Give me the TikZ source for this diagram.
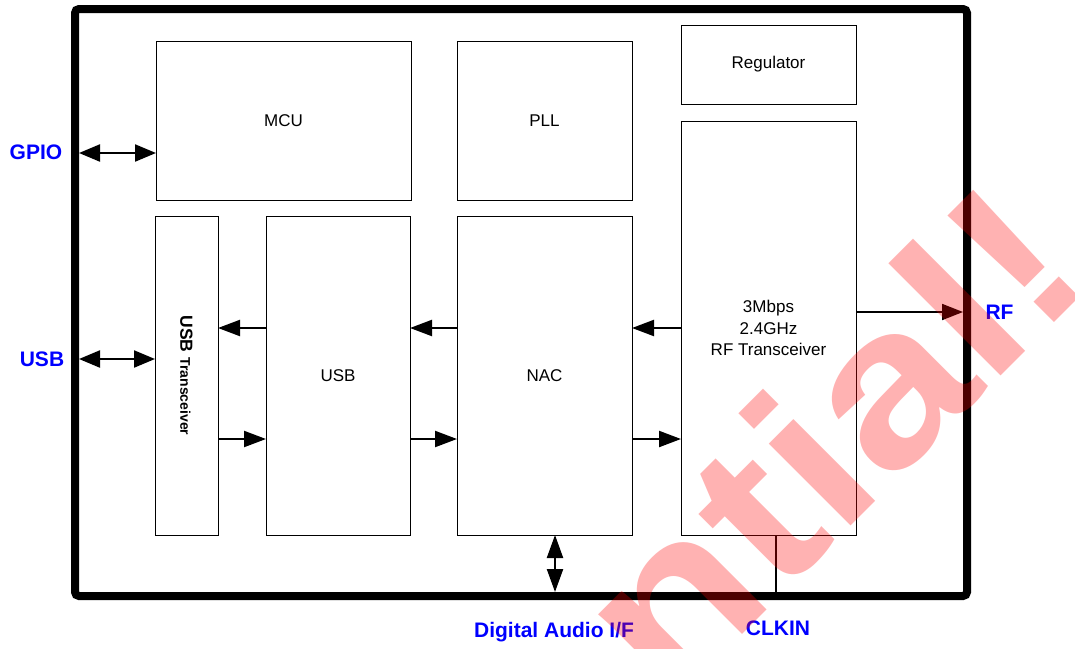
\documentclass[tikz,border=0pt]{standalone}
\usepackage{fontspec}
\setmainfont{Liberation Sans}
\usetikzlibrary{arrows.meta}
\begin{document}
\begin{tikzpicture}[x=1pt,y=-1pt,
  blk/.style={draw=black, line width=0.8pt, inner sep=0pt, outer sep=0pt, align=center,
    font=\fontsize{17}{21.5}\selectfont},
  arr/.style={line width=2.2pt, -{Triangle[length=22pt,width=16pt]}},
  thinarr/.style={line width=1.8pt, -{Triangle[length=21pt,width=16pt]}},
  dbl/.style={line width=2.2pt, {Triangle[length=21pt,width=17pt]}-{Triangle[length=21pt,width=17pt]}},
  vdbl/.style={line width=2.2pt, {Triangle[length=23pt,width=16pt]}-{Triangle[length=23pt,width=16pt]}},
  pin/.style={text=blue, font=\fontsize{21}{21}\selectfont\bfseries, inner sep=0pt}]
\useasboundingbox (0,0) rectangle (1075,648);
\fill[white] (0,0) rectangle (1075,648);

% chip outline
\draw[line width=8pt, rounded corners=4pt] (75,9) rectangle (967,596);

% blocks
\node[blk, minimum width=255pt, minimum height=159pt] (mcu) at (283.5,120.5) {MCU};
\node[blk, minimum width=175pt, minimum height=159pt] (pll) at (544.5,120.5) {PLL};
\node[blk, minimum width=175pt, minimum height=79pt] (reg) at (768.5,64.5) {Regulator};
\node[blk, minimum width=175pt, minimum height=414pt] (rf) at (768.5,328) {3Mbps\\2.4GHz\\RF Transceiver};
\node[blk, minimum width=63pt, minimum height=319pt] (usbt) at (186.5,375.5) {};
\node[rotate=-90, inner sep=0pt] (usbtl) at (usbt.center) {\bfseries\fontsize{17.5}{20}\selectfont USB \fontsize{14}{16}\selectfont Transceiver};
\node[blk, minimum width=144pt, minimum height=319pt] (usb) at (338,375.5) {USB};
\node[blk, minimum width=175pt, minimum height=319pt] (nac) at (544.5,375.5) {NAC};

% reference coordinates
\coordinate (ya) at (0,328);
\coordinate (yb) at (0,439);
\coordinate (gpioL) at (79,153);
\coordinate (usbL) at (79,359);
\coordinate (rfout) at (963,312);
\coordinate (audB) at (555,592);
\coordinate (clkB) at (776,592);

% external pins
\draw[dbl] (gpioL) -- (gpioL -| mcu.west);
\draw[dbl] (usbL) -- (usbL -| usbt.west);
\draw[thinarr] (rfout -| rf.east) -- (rfout);
\draw[vdbl] (audB |- nac.south) -- (audB);
\draw[line width=1.5pt] (clkB |- rf.south) -- (clkB);

% internal data paths
\draw[arr] (usb.west |- ya) -- (usbt.east |- ya);
\draw[arr] (usbt.east |- yb) -- (usb.west |- yb);
\draw[arr] (nac.west |- ya) -- (usb.east |- ya);
\draw[arr] (usb.east |- yb) -- (nac.west |- yb);
\draw[arr] (rf.west |- ya) -- (nac.east |- ya);
\draw[arr] (nac.east |- yb) -- (rf.west |- yb);

% pin labels
\node[pin] (lgpio) at (36,152) {GPIO};
\node[pin] (lusb) at (42,359) {USB};
\node[pin] (lrf) at (999.5,312) {RF};
\node[pin] (laud) at (554,632) {Digital Audio I/F};
\node[pin] (lclk) at (778,628) {CLKIN};

% watermark
\node[rotate=45, anchor=base east, inner sep=0pt, outer sep=0pt, text=red, text opacity=0.3] (wm) at (1097.7,279.3)
  {\bfseries\fontsize{219}{219}\selectfont\scalebox{1.16}[1]{Confidential!}};
\end{tikzpicture}
\end{document}
